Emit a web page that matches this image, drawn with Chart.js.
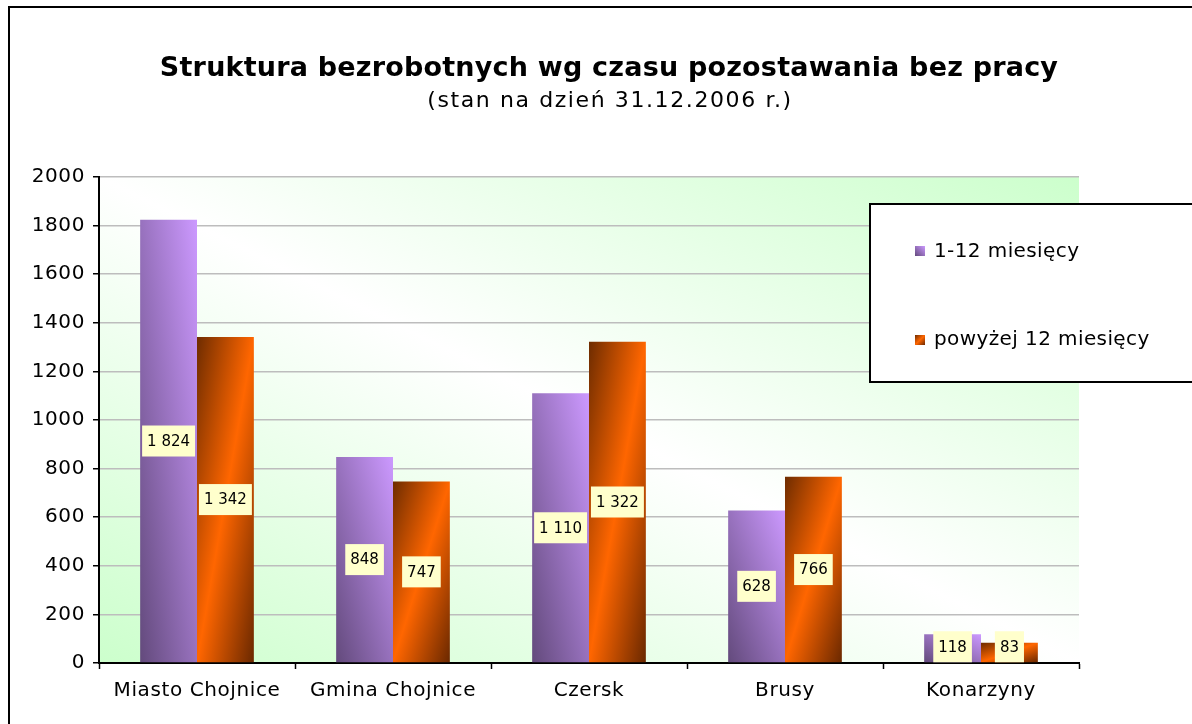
<!DOCTYPE html>
<html lang="pl">
<head>
<meta charset="utf-8">
<title>Struktura bezrobotnych wg czasu pozostawania bez pracy</title>
<script src="https://cdn.jsdelivr.net/npm/chart.js@4.4.1/dist/chart.umd.min.js"></script>
<style>
  html, body { margin: 0; padding: 0; background: #fff; overflow: hidden; }
  #wrap { width: 1192px; height: 724px; position: relative; }
</style>
</head>
<body>
<div id="wrap"><canvas id="chart"></canvas></div>
<script>
// --- dane ---
const gminy = ['Miasto Chojnice', 'Gmina Chojnice', 'Czersk', 'Brusy', 'Konarzyny'];
const do12 = [1824, 848, 1110, 628, 118];
const powyzej12 = [1342, 747, 1322, 766, 83];
const nazwySerii = ['1-12 miesięcy', 'powyżej 12 miesięcy'];
const yMin = 0;
const yMax = 2000;
const yKrok = 200;
const tytul = 'Struktura bezrobotnych wg czasu pozostawania bez pracy';
const podtytul = '(stan na dzień 31.12.2006 r.)';

const FONT = "'DejaVu Sans', Verdana, sans-serif";
Chart.defaults.font.family = FONT;
Chart.defaults.color = '#000';

// kolory gradientów (jak w Excelu)
const fioletStops = [[0, '#634a7c'], [1, '#cc99ff']];
const pomarStops = [[0, '#6e2c00'], [0.5, '#ff6600'], [1, '#6a2800']];
const tloStops = [[0, '#ccffcc'], [0.5, '#ffffff'], [1, '#ccffcc']];

// gradient po przekątnej prostokąta (t = u/2 + v/2)
function diagGradient(ctx, left, top, right, bottom, down, stops) {
    const a = 1 / (2 * Math.max(right - left, 1));
    const b = 1 / (2 * Math.max(bottom - top, 1));
    const d = a * a + b * b;
    const y0 = down ? top : bottom;
    const g = ctx.createLinearGradient(left, y0, left + a / d, y0 + (down ? 1 : -1) * b / d);
    stops.forEach(([o, c]) => g.addColorStop(o, c));
    return g;
}

function formatLiczba(v) {
    return String(v).replace(/\B(?=(\d{3})+(?!\d))/g, ' ');
}

const stylePlugin = {
    id: 'styleExcel',
    beforeDraw(chart) {
        const { ctx, chartArea: ca } = chart;
        ctx.letterSpacing = '0.6px';
        ctx.save();
        ctx.fillStyle = diagGradient(ctx, ca.left, ca.top, ca.right, ca.bottom, false, tloStops);
        ctx.fillRect(ca.left, ca.top, ca.right - ca.left, ca.bottom - ca.top);
        ctx.restore();
    },
    beforeDatasetsDraw(chart) {
        const ctx = chart.ctx;
        chart.data.datasets.forEach((ds, i) => {
            const meta = chart.getDatasetMeta(i);
            meta.data.forEach(el => {
                const left = el.x - el.width / 2;
                const top = Math.min(el.y, el.base);
                const bottom = Math.max(el.y, el.base);
                const g = diagGradient(ctx, left, top, left + el.width, bottom, i === 1,
                    i === 0 ? fioletStops : pomarStops);
                el.options = Object.assign({}, el.options, { backgroundColor: g });
            });
        });
    },
    afterDatasetsDraw(chart) {
        // etykiety danych w żółtych ramkach
        const ctx = chart.ctx;
        ctx.save();
        ctx.letterSpacing = '0px';
        ctx.font = '15px ' + FONT;
        ctx.textAlign = 'center';
        ctx.textBaseline = 'middle';
        chart.data.datasets.forEach((ds, i) => {
            chart.getDatasetMeta(i).data.forEach((el, j) => {
                const txt = formatLiczba(ds.data[j]);
                const w = ctx.measureText(txt).width + 10;
                const h = 31;
                const cy = Math.min((el.y + el.base) / 2, el.base - h / 2);
                ctx.fillStyle = '#ffffcc';
                ctx.fillRect(el.x - w / 2, cy - h / 2, w, h);
                ctx.fillStyle = '#000';
                ctx.fillText(txt, el.x, cy + 1);
            });
        });
        ctx.restore();
    },
    afterDraw(chart) {
        const ctx = chart.ctx;
        ctx.save();
        // tytuł
        ctx.letterSpacing = '0.2px';
        ctx.fillStyle = '#000';
        ctx.textAlign = 'center';
        ctx.textBaseline = 'alphabetic';
        ctx.font = 'bold 27px ' + FONT;
        ctx.fillText(tytul, 609, 76);
        ctx.letterSpacing = '1.6px';
        ctx.font = '22px ' + FONT;
        ctx.fillText(podtytul, 610, 107);

        // legenda
        ctx.letterSpacing = '0.4px';
        ctx.fillStyle = '#fff';
        ctx.fillRect(869, 203, 340, 180);
        ctx.lineWidth = 2;
        ctx.strokeStyle = '#000';
        ctx.strokeRect(870, 204, 340, 178);
        ctx.textAlign = 'left';
        ctx.font = '20px ' + FONT;
        const wiersze = [{ sy: 246, by: 257 }, { sy: 335, by: 345 }];
        chart.data.datasets.forEach((ds, i) => {
            const r = wiersze[i];
            ctx.fillStyle = diagGradient(ctx, 915, r.sy, 925, r.sy + 10, i === 1,
                i === 0 ? fioletStops : pomarStops);
            ctx.fillRect(915, r.sy, 10, 10);
            ctx.fillStyle = '#000';
            ctx.fillText(ds.label, 934, r.by);
        });

        // ramka wykresu
        ctx.lineWidth = 2;
        ctx.strokeRect(9, 7, 1200, 740);
        ctx.restore();
    }
};

new Chart(document.getElementById('chart'), {
    type: 'bar',
    data: {
        labels: gminy,
        datasets: [
            { label: nazwySerii[0], data: do12, backgroundColor: '#9970c0', borderWidth: 0 },
            { label: nazwySerii[1], data: powyzej12, backgroundColor: '#ff6600', borderWidth: 0 }
        ]
    },
    options: {
        responsive: true,
        maintainAspectRatio: false,
        animation: false,
        events: [],
        layout: { padding: { left: 0, right: 113, top: 177, bottom: 0 } },
        datasets: { bar: { categoryPercentage: 0.58, barPercentage: 1.0 } },
        plugins: {
            legend: { display: false },
            title: { display: false },
            tooltip: { enabled: false }
        },
        scales: {
            x: {
                grid: {
                    offset: true,
                    drawOnChartArea: false,
                    tickLength: 6,
                    tickColor: '#000',
                    tickWidth: 1.5
                },
                border: { display: true, color: '#000', width: 2 },
                ticks: { font: { size: 20 }, color: '#000', padding: 10, maxRotation: 0 },
                afterFit: (scale) => { scale.height = 61; }
            },
            y: {
                min: yMin,
                max: yMax,
                ticks: {
                    stepSize: yKrok,
                    font: { size: 20 },
                    color: '#000',
                    padding: 8,
                    callback: (v) => String(v)
                },
                grid: {
                    color: '#bdbdbd',
                    lineWidth: 1.5,
                    tickLength: 6,
                    tickColor: '#000',
                    tickWidth: 1.5
                },
                border: { display: true, color: '#000', width: 2 },
                afterFit: (scale) => { scale.width = 99; }
            }
        }
    },
    plugins: [stylePlugin]
});
</script>
</body>
</html>
